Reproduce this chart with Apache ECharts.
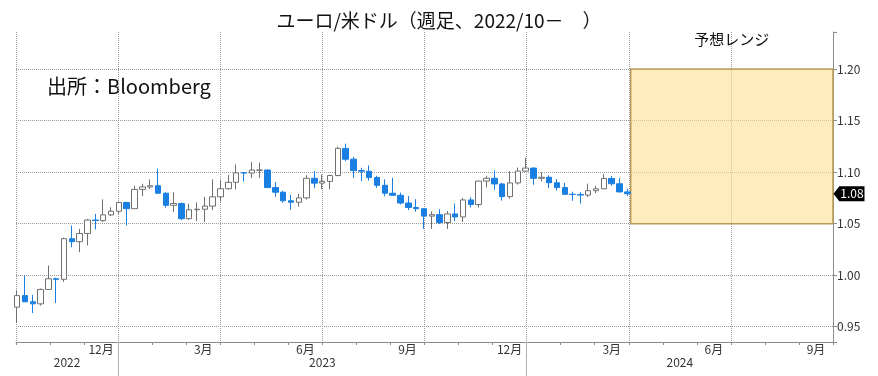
<!DOCTYPE html>
<html>
<head>
<meta charset="utf-8">
<script src="https://cdn.jsdelivr.net/npm/echarts@6/dist/echarts.min.js"></script>
<style>
html, body { margin: 0; padding: 0; background: #fff; }
#main { width: 878px; height: 376px; }
</style>
</head>
<body>
<div id="main"></div>
<script>
// 週足 (金曜日付)
var weeks = ['2022-09-30','2022-10-07','2022-10-14','2022-10-21','2022-10-28','2022-11-04','2022-11-11','2022-11-18','2022-11-25','2022-12-02',
  '2022-12-09','2022-12-16','2022-12-23','2022-12-30','2023-01-06','2023-01-13','2023-01-20','2023-01-27','2023-02-03','2023-02-10',
  '2023-02-17','2023-02-24','2023-03-03','2023-03-10','2023-03-17','2023-03-24','2023-03-31','2023-04-07','2023-04-14','2023-04-21',
  '2023-04-28','2023-05-05','2023-05-12','2023-05-19','2023-05-26','2023-06-02','2023-06-09','2023-06-16','2023-06-23','2023-06-30',
  '2023-07-07','2023-07-14','2023-07-21','2023-07-28','2023-08-04','2023-08-11','2023-08-18','2023-08-25','2023-09-01','2023-09-08',
  '2023-09-15','2023-09-22','2023-09-29','2023-10-06','2023-10-13','2023-10-20','2023-10-27','2023-11-03','2023-11-10','2023-11-17',
  '2023-11-24','2023-12-01','2023-12-08','2023-12-15','2023-12-22','2023-12-29','2024-01-05','2024-01-12','2024-01-19','2024-01-26',
  '2024-02-02','2024-02-09','2024-02-16','2024-02-23','2024-03-01','2024-03-08','2024-03-15','2024-03-22','2024-03-29'];
var opens = [0.9690,0.9802,0.9742,0.9722,0.9862,0.9965,0.9960,1.0354,1.0325,1.0405,
  1.0535,1.0530,1.0585,1.0620,1.0705,1.0645,1.0832,1.0856,1.0868,1.0795,
  1.0678,1.0695,1.0548,1.0635,1.0640,1.0670,1.0760,1.0839,1.0901,1.0993,
  1.0991,1.1018,1.1020,1.0850,1.0805,1.0722,1.0708,1.0750,1.0940,1.0893,
  1.0910,1.0967,1.1230,1.1125,1.1015,1.1008,1.0948,1.0872,1.0795,1.0775,
  1.0700,1.0657,1.0645,1.0573,1.0587,1.0511,1.0594,1.0565,1.0730,1.0685,
  1.0913,1.0940,1.0885,1.0762,1.0895,1.1010,1.1039,1.0940,1.0950,1.0897,
  1.0850,1.0785,1.0783,1.0777,1.0820,1.0838,1.0938,1.0887,1.0808];
var closes = [0.9802,0.9742,0.9722,0.9862,0.9965,0.9960,1.0354,1.0325,1.0405,1.0535,
  1.0530,1.0585,1.0620,1.0705,1.0645,1.0832,1.0856,1.0868,1.0795,1.0678,
  1.0695,1.0548,1.0635,1.0640,1.0670,1.0760,1.0839,1.0901,1.0993,1.0991,
  1.1020,1.1020,1.0850,1.0805,1.0722,1.0708,1.0750,1.0940,1.0893,1.0910,
  1.0967,1.1230,1.1125,1.1015,1.1008,1.0948,1.0872,1.0795,1.0775,1.0700,
  1.0657,1.0645,1.0573,1.0587,1.0511,1.0594,1.0565,1.0730,1.0685,1.0913,
  1.0940,1.0885,1.0762,1.0895,1.1010,1.1039,1.0940,1.0950,1.0897,1.0850,
  1.0785,1.0783,1.0777,1.0820,1.0838,1.0938,1.0887,1.0808,1.0790];
var lows = [0.9536,0.9740,0.9632,0.9705,0.9861,0.9730,0.9935,1.0272,1.0223,1.0290,
  1.0443,1.0517,1.0573,1.0595,1.0483,1.0643,1.0766,1.0835,1.0795,1.0655,
  1.0613,1.0533,1.0537,1.0524,1.0516,1.0630,1.0713,1.0831,1.0831,1.0909,
  1.0942,1.0942,1.0848,1.0760,1.0702,1.0635,1.0665,1.0733,1.0844,1.0835,
  1.0833,1.0958,1.1106,1.0944,1.0912,1.0917,1.0846,1.0765,1.0772,1.0686,
  1.0631,1.0615,1.0448,1.0448,1.0495,1.0448,1.0524,1.0516,1.0658,1.0657,
  1.0852,1.0828,1.0723,1.0743,1.0880,1.1004,1.0877,1.0910,1.0845,1.0820,
  1.0780,1.0722,1.0695,1.0760,1.0796,1.0834,1.0869,1.0802,1.0768];
var highs = [0.9853,0.9999,0.9809,0.9871,1.0094,0.9976,1.0364,1.0481,1.0448,1.0546,
  1.0594,1.0736,1.0659,1.0713,1.0713,1.0868,1.0887,1.0929,1.1033,1.0806,
  1.0804,1.0705,1.0692,1.0706,1.0760,1.0930,1.0925,1.0973,1.1075,1.1000,
  1.1095,1.1092,1.1025,1.0904,1.0818,1.0778,1.0790,1.0971,1.1012,1.0976,
  1.0975,1.1245,1.1276,1.1149,1.1042,1.1065,1.0965,1.0930,1.0945,1.0800,
  1.0768,1.0737,1.0650,1.0619,1.0640,1.0622,1.0695,1.0748,1.0756,1.0914,
  1.0965,1.1017,1.0895,1.1009,1.1044,1.1139,1.1046,1.0998,1.0970,1.0932,
  1.0895,1.0810,1.0805,1.0888,1.0865,1.0981,1.0963,1.0942,1.0838];

// 予想レンジ
var rangeLow = 1.05;
var rangeHigh = 1.20;
var rangeStart = '2024-04-01';
var axisStart = '2022-09-29';
var axisEnd = '2024-09-29';

// 目盛りラベル
var months = ['2022-10','2022-11','2022-12','2023-01','2023-02','2023-03','2023-04','2023-05','2023-06','2023-07','2023-08','2023-09',
  '2023-10','2023-11','2023-12','2024-01','2024-02','2024-03','2024-04','2024-05','2024-06','2024-07','2024-08','2024-09'];
var monthLabels = ['10月','11月','12月','1月','2月','3月','4月','5月','6月','7月','8月','9月',
  '10月','11月','12月','1月','2月','3月','4月','5月','6月','7月','8月','9月'];
var yearLabels = ['2022','2023','2024'];

function ts(s) { return +new Date(s + 'T00:00:00'); }

var candleData = weeks.map(function (d, i) {
  return [ts(d), opens[i], closes[i], lows[i], highs[i]];
});
var lastClose = closes[closes.length - 1];

// 年ラベル用: 半月刻みのスロット
var yearSlots = [];
for (var k = 0; k <= months.length * 2; k++) yearSlots.push(String(k));
var yearLabelAt = {}, yearSepAt = {};
yearLabels.forEach(function (y) {
  var first = -1, last = -1;
  months.forEach(function (m, i) {
    if (m.slice(0, 4) === y) { if (first < 0) first = i; last = i; }
  });
  yearLabelAt[first + last + 1] = y;
  if (first > 0) yearSepAt[first * 2] = true;
});

var myChart = echarts.init(document.getElementById('main'));
myChart.setOption({
  animation: false,
  textStyle: { fontFamily: '"Noto Sans CJK JP", sans-serif' },
  title: {
    text: 'ユーロ/米ドル（週足、2022/10－　）',
    left: 'center',
    top: 6,
    textStyle: { fontSize: 19, fontWeight: 'normal', color: '#111' }
  },
  graphic: [{
    type: 'text', left: 47, top: 76,
    style: { text: '出所：Bloomberg', fontSize: 20, fontFamily: '"Noto Sans CJK JP", sans-serif', fill: '#111' }
  }],
  grid: { left: 16, right: 45, top: 32, bottom: 34 },
  xAxis: [{
    type: 'time',
    min: ts(axisStart),
    max: ts(axisEnd),
    axisLine: { show: true, lineStyle: { color: '#8c8c8c' } },
    axisTick: { show: false },
    axisLabel: { show: false },
    splitLine: { show: false }
  }, {
    type: 'category',
    position: 'bottom',
    data: months,
    boundaryGap: true,
    axisLine: { show: false },
    axisTick: { show: true, interval: 0, length: 3, lineStyle: { color: '#8c8c8c' } },
    axisLabel: {
      interval: function (i) { return i % 3 === 2; },
      formatter: function (v, i) { return monthLabels[i]; },
      margin: 1, fontSize: 12, color: '#333'
    },
    splitLine: {
      show: true,
      interval: function (i) { return i % 3 === 0; },
      lineStyle: { type: 'dotted', color: '#9a9a9a' }
    }
  }, {
    type: 'category',
    position: 'bottom',
    data: yearSlots,
    boundaryGap: false,
    axisLine: { show: false },
    axisTick: {
      show: true, length: 34,
      interval: function (i) { return !!yearSepAt[i]; },
      lineStyle: { color: '#b0b0b0' }
    },
    axisLabel: {
      interval: function (i) { return !!yearLabelAt[i]; },
      formatter: function (v, i) { return yearLabelAt[i] || ''; },
      margin: 14, fontSize: 12, color: '#333'
    },
    splitLine: { show: false }
  }],
  yAxis: [{
    type: 'value',
    position: 'right',
    min: 0.9352,
    max: 1.2359,
    axisLine: { show: true, lineStyle: { color: '#8c8c8c' } },
    axisTick: { show: true, length: 4, lineStyle: { color: '#8c8c8c' } },
    axisLabel: {
      margin: 4, fontSize: 12, color: '#333',
      formatter: function (v) {
        return Math.abs(v * 20 - Math.round(v * 20)) < 1e-6 ? v.toFixed(2) : '';
      }
    },
    splitLine: {
      show: true, showMinLine: false, showMaxLine: false,
      lineStyle: { type: 'dotted', color: '#9a9a9a' }
    }
  }],
  series: [{
    type: 'candlestick',
    xAxisIndex: 0,
    yAxisIndex: 0,
    barWidth: 6,
    data: candleData,
    itemStyle: {
      color: '#ffffff', color0: '#1a7fe3',
      borderColor: '#707070', borderColor0: '#1a7fe3', borderColorDoji: '#555',
      borderWidth: 1
    },
    emphasis: { disabled: true },
    markArea: {
      silent: true,
      itemStyle: { color: 'rgba(255,224,145,0.6)', borderColor: '#b89a58', borderWidth: 1.5 },
      label: { show: true, position: 'top', distance: 21, color: '#111', fontSize: 15 },
      data: [[
        { name: '予想レンジ', xAxis: ts(rangeStart), yAxis: rangeHigh },
        { xAxis: ts(axisEnd), yAxis: rangeLow }
      ]]
    },
    markPoint: {
      silent: true,
      symbol: 'path://M0,7 L6,0 L32,0 L32,14 L6,14 Z',
      symbolSize: [31, 15],
      symbolKeepAspect: false,
      symbolOffset: [16, 0],
      itemStyle: { color: '#000' },
      label: {
        show: true, color: '#fff', fontSize: 12, offset: [3, 0],
        formatter: function (p) { return p.value.toFixed(2); }
      },
      data: [{ coord: [ts(axisEnd), lastClose], value: lastClose }]
    }
  }]
});
</script>
</body>
</html>
